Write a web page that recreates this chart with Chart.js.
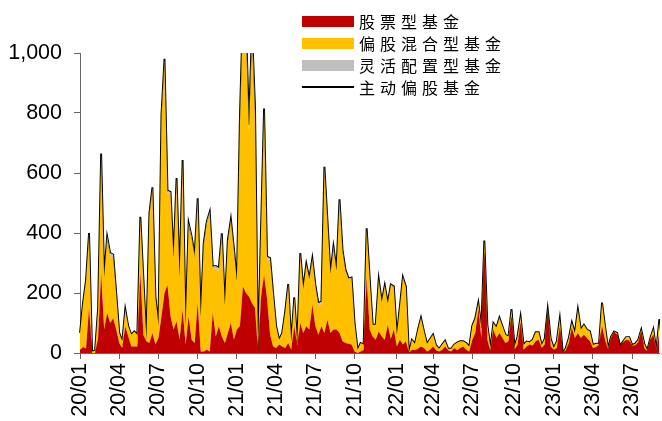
<!DOCTYPE html>
<html lang="zh">
<head>
    <meta charset="UTF-8">
    <meta name="viewport" content="width=device-width, initial-scale=1.0">
    <title>主动偏股基金发行规模</title>
    <script src="https://cdn.jsdelivr.net/npm/chart.js"></script>
    <style>
        body{margin:0;background:#fff;}
        #wrap{position:relative;width:662px;height:421px;}
        #legend{position:absolute;left:302px;top:10px;font-family:"Noto Sans CJK SC",sans-serif;font-size:16px;letter-spacing:5px;color:#000;}
        #legend .row{height:22px;display:flex;align-items:center;white-space:nowrap;}
        #legend .sw{display:inline-block;width:52px;height:11px;margin-right:5px;}
        #legend .ln{display:inline-block;width:52px;height:1.5px;background:#000;margin-right:5px;}
    </style>
</head>
<body>
<div id="wrap">
    <canvas id="fundChart" width="662" height="421"></canvas>
    <div id="legend"></div>
</div>
<script>
    // 周度数据，起始 2020-01-03
    const startDate = "2020-01-03"
    const tickLabels = ["20/01","20/04","20/07","20/10","21/01","21/04","21/07","21/10","22/01","22/04","22/07","22/10","23/01","23/04","23/07"]

    const seriesNames = ["股票型基金","偏股混合型基金","灵活配置型基金","主动偏股基金"]

    const stockFund = [
        10,20,15,150,0,0,50,266,78,133, 100,116,78,33,17,89,55,22,22,22,
        266,60,39,33,67,28,50,122,200,227, 122,78,105,44,144,28,122,44,33,166,
        5,5,11,5,133,55,89,55,33,67, 100,44,78,90,222,200,188,166,150,0,
        188,260,180,60,22,17,28,22,17,33, 11,89,25,100,67,89,78,161,89,61,
        89,67,111,67,78,78,67,39,33,31, 28,5,0,5,10,250,78,55,44,72,
        55,44,94,47,78,22,44,28,39,0, 11,9,14,22,17,5,11,22,9,5,
        11,22,9,5,17,9,17,22,11,5, 44,67,144,50,338,44,5,78,50,67,
        50,33,39,122,11,28,100,11,22,28, 25,39,44,17,28,138,22,11,17,85,
        0,9,33,83,50,67,50,61,50,39, 17,20,28,89,44,9,50,70,61,24,
        36,44,42,24,26,36,72,17,5,44, 61,5,67
    ]
    const mixedFund = [
        57,144,226,242,5,8,97,384,174,247, 221,200,119,34,22,54,34,39,50,39,
        180,187,5,425,477,157,44,656,766,306, 407,235,470,207,484,61,303,336,286,342,
        114,353,419,458,152,225,184,336,125,302, 338,297,161,672,878,850,547,874,645,5,
        224,540,129,248,175,72,16,45,118,194, 28,94,7,225,146,205,168,147,135,95,
        75,539,324,196,269,196,437,297,241,215, 221,92,11,28,18,158,169,39,50,171,
        114,179,70,178,141,39,108,222,180,0, 33,22,64,94,55,26,36,40,17,9,
        17,19,5,9,11,26,22,17,22,17, 47,47,22,33,32,50,12,20,36,49,
        39,28,16,22,10,27,20,16,16,8, 19,30,25,10,19,6,25,6,22,28,
        0,8,17,17,17,77,28,33,28,33, 10,11,3,77,45,7,5,2,6,0,
        3,9,11,3,5,8,6,14,4,6, 19,4,44
    ]
    const flexFund = [
        0,3,3,8,0,0,3,15,3,8, 12,12,3,0,0,3,0,0,0,0,
        8,3,0,8,8,3,0,15,15,8, 8,8,8,3,15,0,8,8,8,8,
        3,8,8,8,3,10,10,8,3,8, 8,8,3,25,50,50,25,40,25,0,
        8,15,12,8,3,0,0,0,3,3, 0,3,0,8,3,3,3,8,3,10,
        8,15,8,3,8,3,8,8,3,3, 3,3,0,0,0,8,3,0,0,3,
        3,3,3,3,3,0,3,3,3,0, 0,0,0,2,0,0,0,0,0,0,
        0,0,0,0,0,0,0,0,0,0, 0,2,2,0,5,0,0,2,0,2,
        0,0,0,2,0,0,2,0,0,0, 0,0,0,0,0,0,0,0,0,2,
        0,0,0,2,0,2,0,0,0,0, 0,0,0,2,0,0,0,0,0,0,
        0,0,0,0,0,0,0,0,0,0, 0,0,2
    ]
    const activeTotal = [
        67,167,244,400,5,8,150,665,255,388, 333,328,200,67,39,146,89,61,72,61,
        454,250,44,466,552,188,94,793,981,541, 537,321,583,254,643,89,433,388,327,516,
        122,366,438,471,288,290,283,399,161,377, 446,349,242,787,1150,1100,760,1080,820,5,
        420,815,321,316,200,89,44,67,138,230, 39,186,32,333,216,297,249,316,227,166,
        172,621,443,266,355,277,512,344,277,249, 252,100,11,33,28,416,250,94,94,246,
        172,226,167,228,222,61,155,253,222,0, 44,31,78,118,72,31,47,62,26,14,
        28,41,14,14,28,35,39,39,33,22, 91,116,168,83,375,94,17,100,86,118,
        89,61,55,146,21,55,122,27,38,36, 44,69,69,27,47,146,47,17,39,115,
        0,17,50,102,67,146,78,94,78,72, 27,31,31,168,89,16,55,72,67,24,
        39,53,53,27,31,44,78,31,9,50, 80,9,113
    ]

    const colors = ["#C00000","#FFC000","#BFBFBF","#000000"]

    // 周度日期标签
    const weeks = []
    const d0 = new Date(startDate + "T00:00:00")
    for (let i = 0; i < activeTotal.length; i++) {
        const d = new Date(d0.getTime() + i * 7 * 86400000)
        const yy = String(d.getFullYear()).slice(2)
        const mm = String(d.getMonth() + 1).padStart(2, "0")
        weeks.push(yy + "/" + mm)
    }

    function tickFor(index){
        const key = weeks[index]
        if (index > 0 && weeks[index - 1] === key) return null
        return tickLabels.includes(key) ? key : null
    }

    // html 图例
    const legend = document.getElementById("legend")
    seriesNames.forEach((name, i) => {
        const row = document.createElement("div")
        row.className = "row"
        const sw = document.createElement("span")
        if (i < 3) { sw.className = "sw"; sw.style.background = colors[i] } else { sw.className = "ln" }
        row.appendChild(sw)
        row.appendChild(document.createTextNode(name))
        legend.appendChild(row)
    })

    Chart.defaults.font.family = "'Liberation Sans', Arial, sans-serif"
    Chart.defaults.color = "#000"

    const ctx = document.getElementById("fundChart").getContext("2d")
    new Chart(ctx, {
        type: "line",
        data: {
            labels: weeks,
            datasets: [
                {label: seriesNames[0], data: stockFund, backgroundColor: colors[0], borderWidth: 0, fill: "origin", stack: "funds"},
                {label: seriesNames[1], data: mixedFund, backgroundColor: colors[1], borderWidth: 0, fill: "-1", stack: "funds"},
                {label: seriesNames[2], data: flexFund, backgroundColor: colors[2], borderWidth: 0, fill: "-1", stack: "funds"},
                {label: seriesNames[3], data: activeTotal, borderColor: colors[3], borderWidth: 1.9, fill: false, stack: "total"}
            ]
        },
        options: {
            responsive: false,
            animation: false,
            elements: {point: {radius: 0}, line: {tension: 0}},
            layout: {padding: {top: 53, right: 0, bottom: 0, left: 0}},
            plugins: {legend: {display: false}, tooltip: {enabled: false}},
            scales: {
                x: {
                    grid: {drawOnChartArea: false, tickLength: 6, color: "#666"},
                    border: {color: "#666"},
                    ticks: {
                        autoSkip: false, maxRotation: 90, minRotation: 90, padding: 4,
                        font: {size: 21.5},
                        callback: (v, i) => tickFor(i)
                    },
                    afterFit: s => { s.height = 68 }
                },
                y: {
                    stacked: true,
                    min: 0, max: 1000,
                    grid: {drawOnChartArea: false, tickLength: 6, color: "#666"},
                    border: {color: "#666"},
                    ticks: {stepSize: 200, padding: 12, font: {size: 21.5}, callback: v => v.toLocaleString("en-US")},
                    afterFit: s => { s.width = 80 }
                }
            }
        }
    })
</script>
</body>
</html>
